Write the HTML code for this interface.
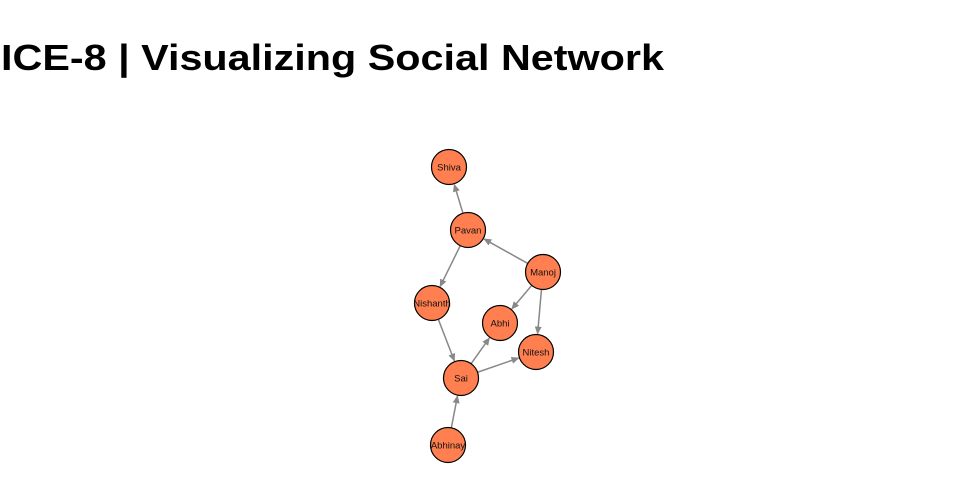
<!DOCTYPE html>
<html><head><meta charset="utf-8"><style>
html,body{margin:0;padding:0;background:#fff;width:960px;height:500px;overflow:hidden}
</style></head><body>
<svg id="s" width="960" height="500" xmlns="http://www.w3.org/2000/svg">
<defs><marker id="a" markerWidth="8" markerHeight="8" refX="7" refY="4" orient="auto" markerUnits="userSpaceOnUse"><path d="M0,0.5 L8,4 L0,7.5 z" fill="#888"/></marker></defs>
<text x="1" y="70" font-family="Liberation Sans, sans-serif" font-weight="bold" font-size="36" textLength="663" lengthAdjust="spacingAndGlyphs" fill="#000">ICE-8 | Visualizing Social Network</text>
<g id="e"></g><g id="n"></g>
</svg>
<script>
var N={Shiva:[449,167],Pavan:[468,230],Manoj:[543,272],Nishanth:[432,303],Abhi:[500,323],Nitesh:[536,352],Sai:[461,378],Abhinay:[448,445]};
var E=[["Pavan","Shiva"],["Manoj","Pavan"],["Pavan","Nishanth"],["Manoj","Abhi"],["Manoj","Nitesh"],["Nishanth","Sai"],["Sai","Abhi"],["Sai","Nitesh"],["Abhinay","Sai"]];
var r=17.5,ns="http://www.w3.org/2000/svg",eg=document.getElementById("e"),ng=document.getElementById("n");
E.forEach(function(p){var a=N[p[0]],b=N[p[1]],dx=b[0]-a[0],dy=b[1]-a[1],d=Math.hypot(dx,dy),ux=dx/d,uy=dy/d;
var l=document.createElementNS(ns,"line");l.setAttribute("x1",a[0]+ux*r);l.setAttribute("y1",a[1]+uy*r);l.setAttribute("x2",b[0]-ux*(r+1));l.setAttribute("y2",b[1]-uy*(r+1));
l.setAttribute("stroke","#888");l.setAttribute("stroke-width","1.5");l.setAttribute("marker-end","url(#a)");eg.appendChild(l);});
for(var k in N){var c=document.createElementNS(ns,"circle");c.setAttribute("cx",N[k][0]);c.setAttribute("cy",N[k][1]);c.setAttribute("r",r);c.setAttribute("fill","#ff7f50");c.setAttribute("stroke","#000");c.setAttribute("stroke-width","1.2");ng.appendChild(c);
var t=document.createElementNS(ns,"text");t.setAttribute("x",N[k][0]);t.setAttribute("y",N[k][1]+3.5);t.setAttribute("text-anchor","middle");t.setAttribute("font-family","Liberation Sans, sans-serif");t.setAttribute("font-size","9.5");t.setAttribute("fill","#111");t.textContent=k;ng.appendChild(t);}
</script>
</body></html>
